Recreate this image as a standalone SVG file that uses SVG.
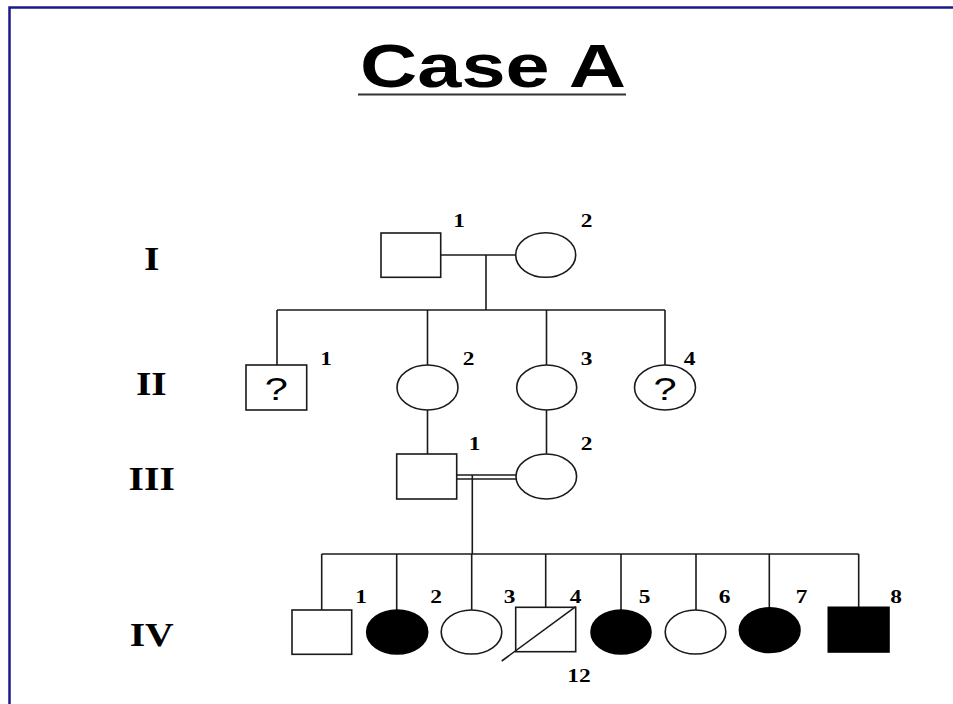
<svg xmlns="http://www.w3.org/2000/svg" width="953" height="704" viewBox="0 0 953 704">
  <style>
    .frame { stroke: #1a1a8c; stroke-width: 2.5; fill: none; }
    .sym { stroke: #1a1a1a; stroke-width: 1.6; fill: #fff; }
    .aff { stroke: #000; stroke-width: 1.6; fill: #000; }
    .line { stroke: #1a1a1a; stroke-width: 1.6; fill: none; }
    .title { font-family: "Liberation Sans", Arial, sans-serif; font-weight: bold; font-size: 61px; fill: #000; }
    .gen { font-family: "Liberation Serif", "Times New Roman", serif; font-weight: bold; font-size: 33px; fill: #000; }
    .num { font-family: "Liberation Serif", "Times New Roman", serif; font-weight: bold; font-size: 18px; fill: #000; }
    .q { font-family: "Liberation Sans", Arial, sans-serif; font-size: 32px; fill: #000; }
  </style>

  <rect width="953" height="704" fill="#fff"/>
  <!-- slide frame -->
  <path class="frame" d="M9.5,704 V7.5 H953"/>

  <!-- title -->
  <g id="title">
    <text class="title" x="493" y="87" text-anchor="middle" textLength="266" lengthAdjust="spacingAndGlyphs">Case A</text>
    <line x1="358" y1="94.5" x2="626" y2="94.5" stroke="#333" stroke-width="2"/>
  </g>

  <!-- generation labels -->
  <g id="generations">
    <text class="gen" text-anchor="middle" transform="translate(151.7,270) scale(1.2,1)">I</text>
    <text class="gen" text-anchor="middle" transform="translate(151.3,395) scale(1.2,1)">II</text>
    <text class="gen" text-anchor="middle" transform="translate(151.7,490) scale(1.2,1)">III</text>
    <text class="gen" text-anchor="middle" transform="translate(151.7,646) scale(1.2,1)">IV</text>
  </g>

  <!-- connectors -->
  <g id="connectors">
    <line class="line" x1="440.7" y1="255" x2="515.7" y2="255"/>
    <line class="line" x1="486" y1="255" x2="486" y2="310"/>
    <line class="line" x1="277" y1="310" x2="665" y2="310"/>
    <line class="line" x1="277" y1="310" x2="277" y2="365"/>
    <line class="line" x1="427.5" y1="310" x2="427.5" y2="365"/>
    <line class="line" x1="546.5" y1="310" x2="546.5" y2="365"/>
    <line class="line" x1="665" y1="310" x2="665" y2="365"/>
    <line class="line" x1="427.5" y1="410" x2="427.5" y2="454"/>
    <line class="line" x1="546.5" y1="410" x2="546.5" y2="454"/>
    <!-- consanguineous union -->
    <line class="line" x1="456.7" y1="475" x2="516" y2="475"/>
    <line class="line" x1="456.7" y1="479" x2="516" y2="479"/>
    <line class="line" x1="472.3" y1="475" x2="472.3" y2="554"/>
    <line class="line" x1="321.7" y1="554" x2="858.7" y2="554"/>
    <line class="line" x1="321.7" y1="554" x2="321.7" y2="610"/>
    <line class="line" x1="396.7" y1="554" x2="396.7" y2="610"/>
    <line class="line" x1="471.7" y1="554" x2="471.7" y2="610"/>
    <line class="line" x1="545.7" y1="554" x2="545.7" y2="607.3"/>
    <line class="line" x1="621" y1="554" x2="621" y2="610"/>
    <line class="line" x1="696" y1="554" x2="696" y2="610"/>
    <line class="line" x1="769.3" y1="554" x2="769.3" y2="608"/>
    <line class="line" x1="858.7" y1="554" x2="858.7" y2="607.3"/>
  </g>

  <!-- generation I -->
  <g id="I-1">
    <rect class="sym" x="381" y="233" width="59.7" height="44.3"/>
    <text class="num" text-anchor="middle" transform="translate(459,227) scale(1.3,1)">1</text>
  </g>
  <g id="I-2">
    <ellipse class="sym" cx="545.7" cy="255" rx="30" ry="22.3"/>
    <text class="num" text-anchor="middle" transform="translate(586.5,227) scale(1.3,1)">2</text>
  </g>

  <!-- generation II -->
  <g id="II-1">
    <rect class="sym" x="246" y="365" width="60.7" height="45"/>
    <text class="q" text-anchor="middle" transform="translate(276.3,400) scale(1.3,1)">?</text>
    <text class="num" text-anchor="middle" transform="translate(326,365) scale(1.3,1)">1</text>
  </g>
  <g id="II-2">
    <ellipse class="sym" cx="427.5" cy="387.5" rx="30.5" ry="22.5"/>
    <text class="num" text-anchor="middle" transform="translate(468.5,365) scale(1.3,1)">2</text>
  </g>
  <g id="II-3">
    <ellipse class="sym" cx="546.7" cy="387.5" rx="30" ry="22.5"/>
    <text class="num" text-anchor="middle" transform="translate(586.5,365) scale(1.3,1)">3</text>
  </g>
  <g id="II-4">
    <ellipse class="sym" cx="665" cy="387.5" rx="30.5" ry="22.5"/>
    <text class="q" text-anchor="middle" transform="translate(665,400) scale(1.3,1)">?</text>
    <text class="num" text-anchor="middle" transform="translate(689.5,365) scale(1.3,1)">4</text>
  </g>

  <!-- generation III -->
  <g id="III-1">
    <rect class="sym" x="396.7" y="454" width="60" height="45"/>
    <text class="num" text-anchor="middle" transform="translate(474.5,450) scale(1.3,1)">1</text>
  </g>
  <g id="III-2">
    <ellipse class="sym" cx="546.3" cy="476.5" rx="30.3" ry="22.5"/>
    <text class="num" text-anchor="middle" transform="translate(586.5,450) scale(1.3,1)">2</text>
  </g>

  <!-- generation IV -->
  <g id="IV-1">
    <rect class="sym" x="292" y="610" width="59.7" height="44.3"/>
    <text class="num" text-anchor="middle" transform="translate(361,603) scale(1.3,1)">1</text>
  </g>
  <g id="IV-2">
    <ellipse class="aff" cx="397.2" cy="632" rx="30.5" ry="22"/>
    <text class="num" text-anchor="middle" transform="translate(436,603) scale(1.3,1)">2</text>
  </g>
  <g id="IV-3">
    <ellipse class="sym" cx="471.5" cy="632" rx="30.3" ry="22"/>
    <text class="num" text-anchor="middle" transform="translate(509.5,603) scale(1.3,1)">3</text>
  </g>
  <g id="IV-4">
    <rect class="sym" x="515.7" y="607.3" width="60" height="44.4"/>
    <line class="line" x1="501.7" y1="661" x2="575.7" y2="606.7"/>
    <text class="num" text-anchor="middle" transform="translate(575.5,603) scale(1.3,1)">4</text>
    <text class="num" text-anchor="middle" transform="translate(579,682) scale(1.3,1)">12</text>
  </g>
  <g id="IV-5">
    <ellipse class="aff" cx="621" cy="632" rx="30" ry="22"/>
    <text class="num" text-anchor="middle" transform="translate(644.5,603) scale(1.3,1)">5</text>
  </g>
  <g id="IV-6">
    <ellipse class="sym" cx="695.5" cy="632" rx="30.3" ry="22"/>
    <text class="num" text-anchor="middle" transform="translate(724.5,603) scale(1.3,1)">6</text>
  </g>
  <g id="IV-7">
    <ellipse class="aff" cx="769.7" cy="630.2" rx="30.3" ry="22.3"/>
    <text class="num" text-anchor="middle" transform="translate(801.5,603) scale(1.3,1)">7</text>
  </g>
  <g id="IV-8">
    <rect class="aff" x="828.3" y="607.3" width="60.7" height="44.7"/>
    <text class="num" text-anchor="middle" transform="translate(896,603) scale(1.3,1)">8</text>
  </g>
</svg>
